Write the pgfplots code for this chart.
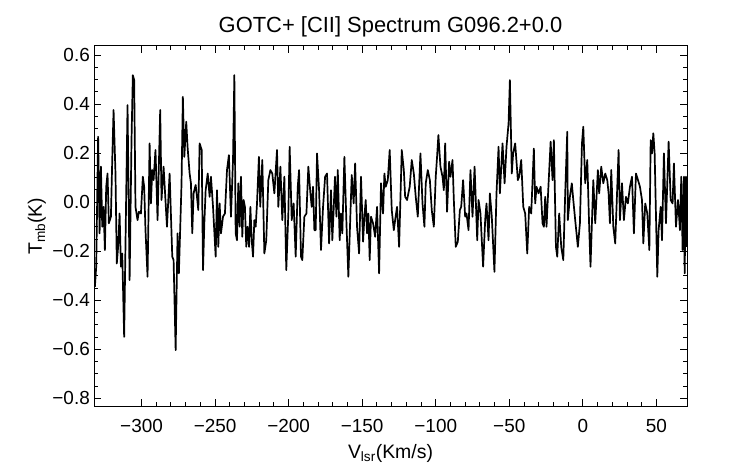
\documentclass[border=0pt]{standalone}
\usepackage{fontspec}
\setmainfont{Liberation Sans}
\usepackage{pgfplots}
\pgfplotsset{compat=1.18}
\pgfplotstableread{
x y
-331.7 -0.345
-330.8 -0.263
-329.5 0.267
-328.5 -0.127
-327.6 0.145
-326.7 -0.100
-325.8 -0.019
-324.9 -0.195
-324.0 0.063
-323.1 0.117
-322.2 -0.086
-320.8 -0.059
-319.9 0.172
-319.0 0.376
-317.7 0.117
-316.8 -0.250
-315.9 -0.182
-314.9 -0.046
-314.0 -0.263
-313.1 -0.209
-311.8 -0.549
-310.4 0.036
-309.5 0.396
-308.1 -0.318
-306.8 0.253
-305.9 0.518
-305.0 0.498
-304.1 -0.019
-302.7 -0.073
-301.8 -0.039
-300.4 -0.046
-299.1 0.104
-298.2 0.063
-297.3 -0.114
-295.9 -0.304
-294.5 0.240
-293.6 -0.005
-292.7 0.131
-291.8 0.090
-290.5 0.213
-289.1 -0.073
-287.3 0.376
-286.4 0.009
-285.0 0.145
-284.1 0.049
-282.7 -0.100
-280.9 0.117
-279.1 -0.222
-278.2 -0.236
-276.8 -0.603
-275.5 -0.127
-274.6 -0.290
-272.8 0.077
-271.9 0.430
-270.9 0.185
-269.6 0.328
-268.7 0.226
-267.3 0.117
-266.4 0.077
-265.5 -0.127
-264.6 0.036
-263.2 0.070
-262.3 0.022
-261.4 -0.032
-260.5 0.240
-259.1 0.213
-258.2 -0.277
-257.3 -0.086
-256.4 0.049
-255.0 0.117
-253.7 0.022
-252.8 0.104
-251.4 -0.019
-249.6 -0.222
-248.7 0.049
-247.8 -0.182
-246.9 -0.005
-246.0 -0.127
-244.6 -0.059
-243.3 -0.046
-241.9 0.131
-240.6 0.192
-239.2 -0.059
-237.8 0.172
-236.9 0.518
-236.0 -0.127
-235.1 -0.155
-234.2 0.077
-233.3 -0.100
-232.4 0.104
-231.5 -0.141
-230.6 0.009
-229.7 -0.019
-228.8 -0.182
-227.9 -0.100
-226.9 -0.182
-226.0 -0.019
-225.1 -0.155
-224.2 -0.222
-223.3 -0.073
-222.4 -0.100
-221.5 -0.005
-220.2 0.185
-219.3 -0.019
-217.9 0.172
-216.5 -0.209
-215.2 -0.155
-213.8 0.090
-212.4 0.131
-211.1 0.117
-209.7 0.036
-207.9 0.213
-207.0 -0.019
-205.6 0.145
-204.3 -0.073
-202.9 0.104
-201.6 -0.277
-200.2 -0.046
-199.3 0.226
-197.9 -0.073
-196.6 -0.005
-195.2 -0.222
-193.8 0.063
-192.9 0.131
-191.6 -0.222
-190.7 -0.236
-189.3 -0.059
-187.9 -0.046
-186.6 0.145
-185.2 0.036
-184.3 -0.019
-183.4 0.063
-182.5 -0.114
-181.6 -0.114
-180.7 0.199
-179.3 0.049
-178.0 -0.195
-176.6 -0.019
-175.2 0.104
-173.9 0.117
-172.5 -0.168
-171.2 0.049
-170.3 -0.155
-169.4 -0.032
-168.5 0.104
-167.5 -0.059
-166.6 0.131
-165.3 -0.155
-164.4 -0.046
-163.5 -0.127
-162.1 0.185
-160.7 -0.086
-159.4 -0.304
-158.0 -0.046
-157.1 0.111
-155.8 -0.005
-154.8 0.158
-153.5 -0.100
-152.1 -0.209
-150.8 0.104
-149.4 -0.161
-148.5 -0.059
-147.6 0.009
-146.7 -0.127
-145.8 -0.046
-144.9 -0.236
-144.0 -0.059
-142.6 -0.086
-141.2 -0.141
-139.9 -0.019
-138.5 -0.290
-137.2 0.077
-135.8 -0.046
-134.9 0.117
-134.0 0.063
-132.6 0.090
-131.3 0.213
-129.9 -0.032
-128.5 -0.114
-127.6 -0.073
-126.3 -0.019
-124.9 -0.182
-123.1 0.213
-121.7 0.131
-120.8 0.022
-119.5 0.009
-117.7 0.063
-116.3 0.172
-114.9 0.117
-113.6 0.022
-112.2 -0.059
-110.4 0.199
-109.0 -0.005
-107.7 -0.100
-106.8 0.077
-105.4 0.131
-104.0 0.090
-102.7 -0.032
-101.3 -0.100
-100.0 0.104
-99.1 0.185
-98.2 0.274
-96.8 0.145
-95.4 0.104
-94.5 0.049
-93.6 0.240
-92.3 -0.039
-90.9 0.165
-90.0 0.104
-88.6 0.172
-87.7 0.009
-86.4 -0.182
-85.0 -0.161
-83.6 -0.032
-82.7 -0.019
-81.4 0.090
-80.0 -0.059
-79.1 -0.046
-77.7 -0.114
-76.4 0.131
-75.0 -0.059
-73.6 0.145
-71.8 -0.155
-70.9 0.009
-69.6 -0.046
-67.8 -0.263
-66.4 -0.073
-65.5 -0.005
-64.1 -0.155
-63.2 0.036
-61.9 -0.059
-60.1 -0.284
-58.7 0.036
-57.3 0.226
-56.4 0.036
-54.6 0.240
-53.2 0.077
-51.9 0.226
-50.5 0.321
-49.6 0.498
-48.3 0.117
-47.4 0.199
-46.0 0.240
-44.2 0.090
-43.3 0.104
-41.9 0.172
-40.5 -0.019
-39.2 -0.046
-37.8 -0.209
-36.5 -0.019
-35.1 -0.046
-33.3 0.219
-32.4 -0.005
-31.5 0.063
-30.1 0.036
-28.7 0.063
-27.4 -0.086
-26.5 -0.100
-25.6 0.022
-24.7 -0.100
-23.3 0.077
-21.9 0.247
-20.6 0.090
-19.7 0.253
-18.3 -0.182
-17.4 -0.222
-16.1 -0.046
-14.7 -0.182
-13.3 -0.236
-12.0 0.036
-10.6 0.287
-10.2 -0.073
-8.8 0.022
-7.5 0.077
-6.5 0.009
-5.2 -0.073
-3.4 -0.182
-2.0 -0.086
-0.6 0.240
0.3 0.308
1.6 0.077
3.0 0.172
4.3 -0.100
5.2 -0.263
7.1 0.090
8.4 -0.086
10.2 0.131
11.1 0.036
12.5 0.145
13.9 0.077
15.2 0.117
16.6 0.090
17.5 0.036
18.4 -0.086
19.3 0.131
20.7 -0.100
22.0 -0.168
22.9 -0.019
24.3 0.213
25.2 -0.073
26.6 0.077
27.9 -0.073
29.3 0.022
30.6 -0.005
32.0 0.063
33.4 0.104
34.7 -0.127
36.1 0.117
37.5 0.090
38.8 0.063
40.2 0.009
41.1 -0.168
42.4 -0.005
43.8 -0.046
45.2 -0.195
46.1 0.253
47.0 0.199
47.9 0.281
48.8 0.199
50.6 -0.304
51.5 -0.114
52.9 -0.019
53.8 -0.155
55.1 0.199
56.5 -0.086
58.3 0.247
59.7 0.009
61.0 -0.005
61.9 0.158
63.3 -0.100
64.7 0.009
66.0 -0.114
66.9 0.104
67.8 -0.195
68.7 0.104
69.2 -0.290
70.1 0.104
70.8 -0.182
}\spectrum
\begin{document}
\begin{tikzpicture}[x=1bp,y=1bp]
\useasboundingbox (0,0) rectangle (742,464);
\begin{axis}[
  at={(94bp,57.5bp)}, anchor=south west,
  scale only axis, width=593bp, height=360.5bp,
  xmin=-332.3, xmax=70.8, ymin=-0.833, ymax=0.637,
  xtick={-300,-250,-200,-150,-100,-50,0,50},
  xticklabels={−300,−250,−200,−150,−100,−50,0,50},
  ytick={-0.8,-0.6,-0.4,-0.2,0,0.2,0.4,0.6},
  yticklabels={−0.8,−0.6,−0.4,−0.2,0.0,0.2,0.4,0.6},
  minor x tick num=4, minor y tick num=3,
  tick align=inside, tick pos=both,
  major tick length=7bp, minor tick length=4bp,
  every tick/.style={black, line width=0.9bp},
  axis line style={black, line width=1bp},
  tick label style={font=\fontsize{19}{19}\selectfont, inner sep=0pt},
  xticklabel style={anchor=base, yshift=-26.5bp},
  yticklabel style={anchor=east, xshift=-4bp},
  title={GOTC+ [CII] Spectrum G096.2+0.0},
  title style={at={(axis description cs:0.5,1.0208)}, anchor=base, font=\fontsize{22}{22}\selectfont, inner sep=0pt},
  xlabel={V\textsubscript{lsr}(Km/s)},
  xlabel style={at={(axis description cs:0.5,-0.1429)}, anchor=base, font=\fontsize{19.5}{19.5}\selectfont, inner sep=0pt},
  ylabel={T\textsubscript{mb}(K)},
  ylabel style={at={(axis description cs:-0.0877,0.5)}, anchor=base, font=\fontsize{19.5}{19.5}\selectfont, inner sep=0pt},
]
\addplot[black, line width=1.7bp, line join=round] table[x=x, y=y] {\spectrum};
\end{axis}
\end{tikzpicture}
\end{document}
